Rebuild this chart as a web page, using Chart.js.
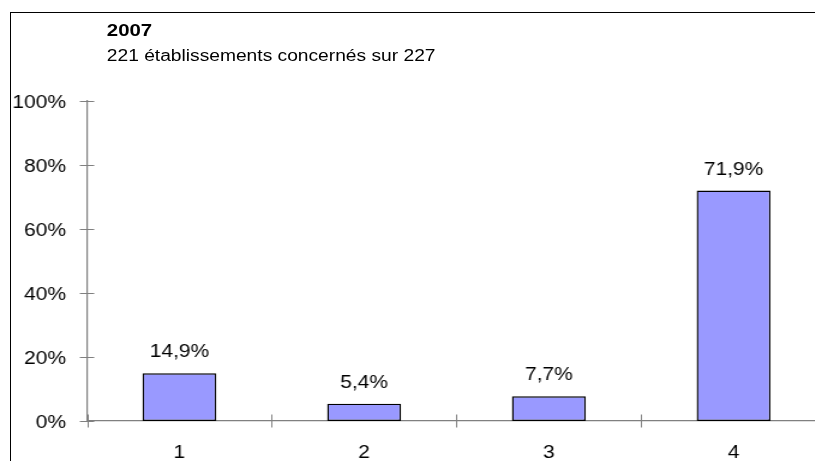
<!DOCTYPE html>
<html>
<head>
<meta charset="utf-8">
<script src="https://cdn.jsdelivr.net/npm/chart.js@4"></script>
<style>
html, body { margin: 0; padding: 0; overflow: hidden; background: #fff; width: 815px; height: 461px; }
.frame { position: absolute; left: 10px; top: 12px; width: 900px; height: 600px; border-left: 1px solid #000; border-top: 1px solid #000; }
/* the source picture is stretched sideways, so the whole chart is too */
.wrap { position: absolute; left: 0; top: 0; width: 700px; height: 461px; transform: scaleX(1.2); transform-origin: 0 0; }
.title { position: absolute; left: 89px; top: 21.6px; font: bold 17px "Liberation Sans", Arial, sans-serif; line-height: 1; color: #000; white-space: nowrap; }
.subtitle { position: absolute; left: 89px; top: 47.8px; font: 16px "Liberation Sans", Arial, sans-serif; line-height: 1; color: #000; white-space: nowrap; }
canvas { position: absolute; left: 0; top: 0; }
</style>
</head>
<body>
<div class="frame"></div>
<div class="wrap">
  <div class="title">2007</div>
  <div class="subtitle">221 établissements concernés sur 227</div>
  <canvas id="chart" width="700" height="461" style="width:700px;height:461px"></canvas>
</div>
<script>
// ---- data ----
const categories = ['1', '2', '3', '4'];
const values = [14.9, 5.4, 7.7, 71.9];
const yMin = 0, yMax = 100, yStep = 20;

const font = { family: '"Liberation Sans", Arial, sans-serif', size: 17.5 };
const axisGray = '#808080';

// value labels above the bars, "14,9%"
const barLabels = {
    id: 'barLabels',
    afterDatasetsDraw(chart) {
        const ctx = chart.ctx;
        ctx.save();
        ctx.font = font.size + 'px ' + font.family;
        ctx.fillStyle = '#000';
        ctx.textAlign = 'center';
        ctx.textBaseline = 'alphabetic';
        chart.getDatasetMeta(0).data.forEach((bar, i) => {
            ctx.fillText(values[i].toFixed(1).replace('.', ',') + '%', bar.x, bar.y - 16);
        });
        ctx.restore();
    }
};

// excel style tick marks that cross the axis
const crossTicks = {
    id: 'crossTicks',
    afterDraw(chart) {
        const ctx = chart.ctx, xs = chart.scales.x, ys = chart.scales.y;
        ctx.save();
        ctx.strokeStyle = axisGray;
        ctx.lineWidth = 1;
        ctx.beginPath();
        ys.ticks.forEach(t => {
            const py = Math.round(ys.getPixelForValue(t.value)) + 0.5;
            ctx.moveTo(xs.left - 6, py);
            ctx.lineTo(xs.left + 6, py);
        });
        for (let i = 0; i <= categories.length; i++) {
            const px = Math.round(xs.left + i * xs.width / categories.length) + 0.5;
            ctx.moveTo(px, ys.bottom - 6.5);
            ctx.lineTo(px, ys.bottom + 6.5);
        }
        ctx.stroke();
        ctx.restore();
    }
};

new Chart(document.getElementById('chart'), {
    type: 'bar',
    data: {
        labels: categories,
        datasets: [{
            data: values,
            backgroundColor: '#9999FF',
            borderColor: '#000',
            borderWidth: 1.4,
            borderSkipped: false,
            barPercentage: 0.4,
            categoryPercentage: 1.0
        }]
    },
    options: {
        responsive: false,
        animation: false,
        devicePixelRatio: 1,
        layout: { padding: { top: 100.5, right: 11.7, bottom: 0, left: 0 } },
        plugins: { legend: { display: false }, tooltip: { enabled: false } },
        scales: {
            x: {
                grid: { display: false, drawTicks: false },
                border: { display: true, color: axisGray, width: 1.2 },
                ticks: { color: '#000', font: font, padding: 22, maxRotation: 0 },
                afterFit(scale) { scale.height = 40; }
            },
            y: {
                min: yMin,
                max: yMax,
                grid: { display: false, drawTicks: false },
                border: { display: true, color: axisGray, width: 1.2 },
                ticks: { stepSize: yStep, color: '#000', font: font, padding: 17.5, labelOffset: 2.5, callback: v => v + '%' },
                afterFit(scale) { scale.width = 72.5; }
            }
        }
    },
    plugins: [barLabels, crossTicks]
});
</script>
</body>
</html>
